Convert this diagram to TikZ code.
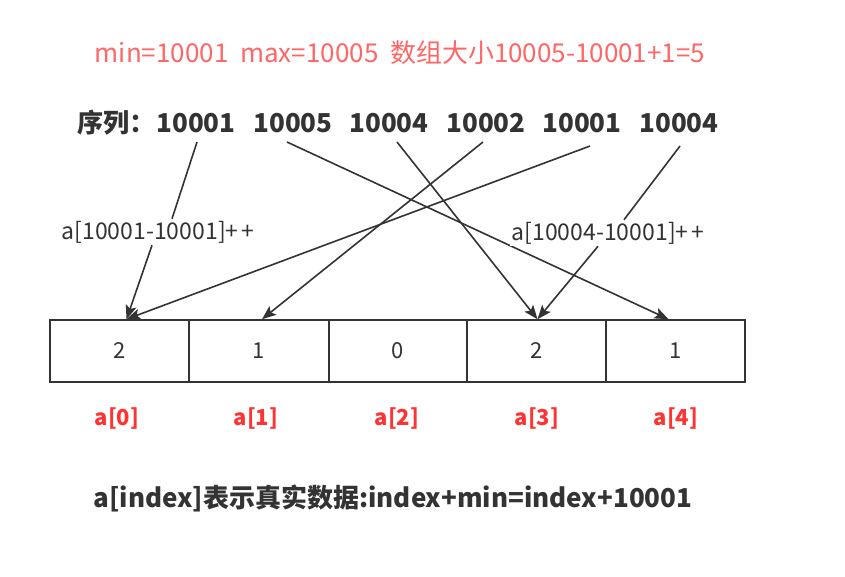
\documentclass[tikz,border=0pt]{standalone}
\usepackage{fontspec}
\setmainfont{Noto Sans CJK SC}
\usetikzlibrary{arrows.meta}
\definecolor{topred}{RGB}{255,102,102}
\definecolor{labred}{RGB}{255,51,51}
\definecolor{ink}{RGB}{51,51,51}
\newcommand{\fs}[1]{\fontsize{#1}{#1}\selectfont}
\tikzset{
  cell/.style={draw=ink, line width=1.6pt, minimum width=139pt, minimum height=62pt, inner sep=0pt, font=\fs{22}, text=ink},
  seqnum/.style={font=\bfseries\fs{26}, text=ink, inner sep=0pt},
  idx/.style={font=\bfseries\fs{22}, text=labred, inner sep=0pt},
  conn/.style={draw=ink, line width=1.6pt},
  arr/.style={conn, -{Stealth[length=14pt,width=11pt,inset=3pt]}},
  oplab/.style={font=\fs{23}, text=ink, fill=white, inner sep=2pt}
}
\begin{document}
\begin{tikzpicture}[x=1pt,y=-1pt]
\useasboundingbox (0,0) rectangle (845,576);
\fill[white] (0,0) rectangle (845,576);
% top line
\node[font=\fs{26}, text=topred, inner sep=0pt] (title) at (400,53) {min=10001\ \ max=10005\ \ 数组大小10005-10001+1=5};
% sequence
\node[seqnum, anchor=west] (seq) at (77,123) {序列：};
\node[seqnum] (n1) at (196,123) {10001};
\node[seqnum] (n2) at (293,123) {10005};
\node[seqnum] (n3) at (389,123) {10004};
\node[seqnum] (n4) at (486,123) {10002};
\node[seqnum] (n5) at (582,123) {10001};
\node[seqnum] (n6) at (679,123) {10004};
% cells
\node[cell] (b0) at (119.5,351) {2};
\node[cell, minimum width=140pt] (b1) at (259,351) {1};
\node[cell, minimum width=138pt] (b2) at (398,351) {0};
\node[cell] (b3) at (536.5,351) {2};
\node[cell] (b4) at (675.5,351) {1};
% index labels
\node[idx] (i0) at (117,418) {a[0]};
\node[idx] (i1) at (256,418) {a[1]};
\node[idx] (i2) at (397,418) {a[2]};
\node[idx] (i3) at (537,418) {a[3]};
\node[idx] (i4) at (676,418) {a[4]};
% bottom note
\node[font=\bfseries\fs{26}, text=ink, inner sep=0pt] (note) at (393,498) {a[index]表示真实数据:index+min=index+10001};
% connectors without labels
\coordinate (t0) at ([xshift=7pt]b0.north);
\coordinate (t1) at ([xshift=3pt]b1.north);
\coordinate (t3) at ([xshift=1pt]b3.north);
\coordinate (t4) at ([xshift=-7pt]b4.north);
\draw[arr] ([xshift=-6pt,yshift=-19pt]n2.center) -- (t4);
\draw[arr] ([xshift=8pt,yshift=-19pt]n3.center) -- (t3);
\draw[arr] ([xshift=-3pt,yshift=-19pt]n4.center) -- (t1);
\draw[arr] ([xshift=8pt,yshift=-23pt]n5.center) -- (t0);
% labelled connectors
\node[oplab] (l1) at (158,232) {a[10001-10001]+\hspace{3pt}+};
\node[oplab] (l2) at (608,233) {a[10004-10001]+\hspace{3pt}+};
\draw[conn] ([xshift=1pt,yshift=-19pt]n1.center) -- (l1.north -| 172,0);
\draw[arr] (l1.south -| 152,0) -- (t0);
\draw[conn] ([xshift=1pt,yshift=-23pt]n6.center) -- (l2.north -| 624,0);
\draw[arr] (l2.south -| 598,0) -- (t3);
\end{tikzpicture}
\end{document}
